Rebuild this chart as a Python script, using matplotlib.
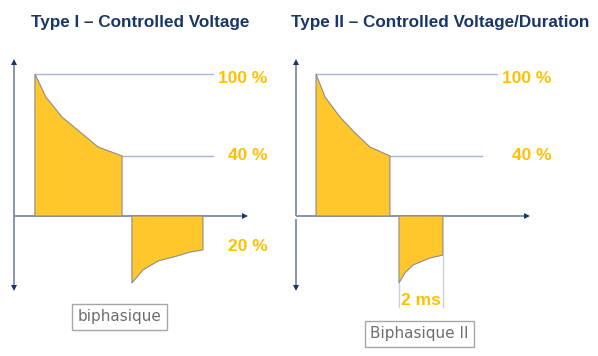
import matplotlib.pyplot as plt

# time in ms, voltage in % of the peak
t_pos_1 = [0.95, 1.45, 2.18, 3.0, 3.82, 4.91]
v_pos_1 = [100, 83.8, 69.7, 59.2, 48.6, 42.3]
t_neg_1 = [5.36, 5.86, 6.55, 7.41, 8.0, 8.59]
v_neg_1 = [-47.2, -38.0, -31.7, -28.2, -25.4, -23.9]

t_pos_2 = [0.91, 1.32, 2.0, 2.68, 3.36, 4.27]
v_pos_2 = [100, 83.8, 69.7, 58.5, 48.6, 42.3]
t_neg_2 = [4.68, 4.95, 5.32, 6.09, 6.68]
v_neg_2 = [-47.2, -40.1, -34.5, -29.6, -27.5]

titles = ['Type I – Controlled Voltage', 'Type II – Controlled Voltage/Duration']
box_labels = ['biphasique', 'Biphasique II']

GOLD = '#FFC72C'
LABEL = '#FFC000'
NAVY = '#1A3668'
AXIS = '#8497B0'
REF = '#A7B6CE'
EDGE = '#8C8C8C'

W, H = 598, 356
px_ms = 22.0
px_pct = 1.42
y0 = 216

fig = plt.figure(figsize=(W / 100, H / 100), dpi=100)
plt.rcParams['font.family'] = ['Liberation Sans', 'DejaVu Sans']


def make_ax(left, right, x0):
    ax = fig.add_axes([left / W, 0, (right - left) / W, 1])
    ax.set_xlim(-(x0 - left) / px_ms, (right - x0) / px_ms)
    ax.set_ylim(-(H - y0) / px_pct, y0 / px_pct)
    ax.axis('off')
    ax.patch.set_alpha(0)
    return ax


def draw_axes(ax, gap):
    ax.plot([0, 0], [0, 108], color=AXIS, lw=1.4, solid_capstyle='butt')
    ax.plot([0, 0], [-gap, -50], color=AXIS, lw=1.4, solid_capstyle='butt')
    ax.plot([0, 10.5], [0, 0], color=AXIS, lw=1.4, solid_capstyle='butt')
    ax.plot(0, 108.5, marker='^', color=NAVY, ms=4, mew=0)
    ax.plot(0, -50.5, marker='v', color=NAVY, ms=4, mew=0)
    ax.plot(10.5, 0, marker='>', color=NAVY, ms=4, mew=0)


def draw_pulse(ax, t, v):
    xs = [t[0]] + t + [t[-1]]
    ys = [0] + v + [0]
    ax.fill(xs, ys, facecolor=GOLD, edgecolor=EDGE, lw=0.8, zorder=3)


def pct(ax, x, y, s):
    ax.text(x, y, s, color=LABEL, fontsize=12.5, fontweight='bold', ha='center', va='center')


def box(ax, x, y, s):
    ax.text(x, y, s, color='#6E6E6E', fontsize=11, family='DejaVu Sans', ha='center', va='center',
            bbox=dict(boxstyle='square,pad=0.35', fc='white', ec='#A6A6A6', lw=1))


# left panel
ax1 = make_ax(0, 299, 14)
draw_axes(ax1, 0)
ax1.plot([t_pos_1[0], 9.05], [v_pos_1[0]] * 2, color=REF, lw=1)
ax1.plot([t_pos_1[-1], 9.05], [v_pos_1[-1]] * 2, color=REF, lw=1)
draw_pulse(ax1, t_pos_1, v_pos_1)
draw_pulse(ax1, t_neg_1, v_neg_1)
pct(ax1, 10.4, 97, '100 %')
pct(ax1, 10.64, 42.9, '40 %')
pct(ax1, 10.64, -21.8, '20 %')
ax1.text(5.73, 136, titles[0], color=NAVY, fontsize=12.3, fontweight='bold', ha='center', va='center')
box(ax1, 4.8, -71, box_labels[0])

# right panel
ax2 = make_ax(282, 598, 296)
draw_axes(ax2, 2.2)
ax2.plot([t_pos_2[0], 9.14], [v_pos_2[0]] * 2, color=REF, lw=1)
ax2.plot([t_pos_2[-1], 8.45], [v_pos_2[-1]] * 2, color=REF, lw=1)
ax2.plot([t_neg_2[0]] * 2, [v_neg_2[0], -64.1], color='#C9D1DE', lw=1)
ax2.plot([t_neg_2[-1]] * 2, [v_neg_2[-1], -64.1], color='#C9D1DE', lw=1)
draw_pulse(ax2, t_pos_2, v_pos_2)
draw_pulse(ax2, t_neg_2, v_neg_2)
pct(ax2, 10.5, 97, '100 %')
pct(ax2, 10.73, 42.9, '40 %')
pct(ax2, 5.68, -59.2, '2 ms')
ax2.text(6.55, 136, titles[1], color=NAVY, fontsize=12.3, fontweight='bold', ha='center', va='center')
box(ax2, 5.61, -83, box_labels[1])

fig.savefig('out.png', dpi=100)
